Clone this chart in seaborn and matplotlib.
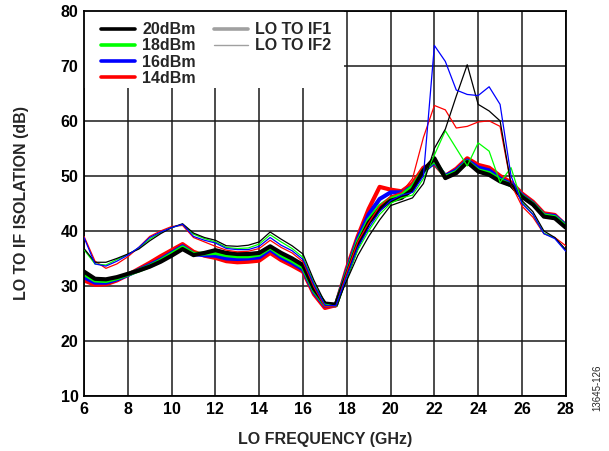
import numpy as np
import pandas as pd
import matplotlib
matplotlib.use("Agg")
import matplotlib.pyplot as plt
from matplotlib.lines import Line2D
from matplotlib.patches import Rectangle
import seaborn as sns

# LO frequency grid (GHz), shared by all curves
freq = np.arange(6.0, 28.01, 0.5)

# LO to IF1 isolation (dB), thick lines
if1_20 = [32.6, 31.3, 31.2, 31.6, 32.2, 32.8, 33.5, 34.4, 35.5, 36.7, 35.6, 36.0, 36.5, 36.0, 35.8,
          35.8, 36.0, 37.2, 36.0, 35.0, 33.8, 29.5, 26.8, 26.6, 32.0, 37.5, 41.5, 44.0, 45.5, 46.0,
          47.5, 51.0, 53.2, 49.6, 50.5, 52.5, 50.8, 50.2, 49.0, 48.3, 46.2, 44.8, 42.6, 42.3, 40.6]
if1_18 = [32.2, 31.0, 30.9, 31.4, 32.1, 32.8, 33.6, 34.6, 35.8, 37.0, 35.8, 35.9, 36.0, 35.6, 35.4,
          35.4, 35.7, 37.0, 35.6, 34.6, 33.4, 29.2, 26.6, 26.5, 32.3, 38.0, 42.0, 44.5, 45.9, 46.5,
          48.0, 51.0, 52.8, 49.8, 50.7, 52.6, 51.0, 50.5, 49.2, 48.3, 46.3, 44.9, 42.8, 42.5, 40.8]
if1_16 = [31.6, 30.6, 30.6, 31.2, 32.0, 32.9, 33.8, 34.8, 36.0, 37.2, 35.8, 35.6, 35.5, 35.0, 34.9,
          35.0, 35.2, 36.6, 35.2, 34.2, 33.0, 28.9, 26.4, 26.5, 32.7, 38.5, 43.0, 45.8, 47.0, 47.0,
          48.0, 50.8, 52.5, 50.0, 51.0, 52.8, 51.5, 51.0, 49.5, 48.5, 46.5, 45.0, 42.9, 42.7, 41.0]
if1_14 = [31.0, 30.2, 30.3, 31.0, 32.0, 33.1, 34.2, 35.4, 36.5, 37.6, 36.2, 35.5, 35.1, 34.5, 34.3,
          34.4, 34.6, 36.0, 34.7, 33.7, 32.6, 28.5, 26.0, 26.5, 33.2, 39.0, 44.0, 48.0, 47.5, 47.2,
          48.6, 51.5, 52.2, 50.0, 51.3, 53.2, 52.0, 51.5, 50.0, 48.8, 46.8, 45.3, 43.2, 42.9, 41.0]

# LO to IF2 isolation (dB), thin lines
if2_20 = [36.8, 34.3, 34.3, 35.0, 35.8, 36.7, 38.2, 39.5, 40.6, 41.3, 39.6, 38.8, 38.3, 37.3, 37.2,
          37.4, 38.0, 39.8, 38.5, 37.3, 35.8, 31.0, 27.0, 26.5, 31.0, 35.5, 39.0, 42.0, 44.6, 45.3,
          46.0, 48.6, 55.0, 58.5, 64.5, 70.2, 63.0, 61.8, 60.0, 48.5, 45.5, 43.5, 40.0, 38.8, 36.6]
if2_18 = [36.6, 34.0, 33.8, 34.8, 35.7, 36.9, 38.5, 39.7, 40.6, 41.2, 39.4, 38.6, 38.0, 37.0, 36.8,
          36.9, 37.6, 39.3, 38.0, 36.8, 35.2, 30.5, 26.7, 26.4, 31.5, 36.5, 40.0, 43.0, 45.0, 46.0,
          46.5, 49.5, 53.8, 58.2, 55.0, 51.8, 56.0, 54.5, 48.8, 51.5, 45.2, 43.0, 39.6, 38.7, 36.5]
if2_16 = [38.8, 34.0, 33.6, 34.5, 35.6, 37.0, 38.8, 39.8, 40.6, 41.2, 39.0, 38.3, 37.8, 36.8, 36.6,
          36.6, 37.2, 38.8, 37.4, 36.4, 34.8, 30.2, 26.5, 26.4, 31.8, 37.0, 40.5, 43.5, 45.5, 46.5,
          47.0, 50.0, 73.7, 70.8, 65.6, 64.8, 64.6, 66.2, 63.0, 50.0, 45.0, 43.0, 39.5, 38.6, 36.3]
if2_14 = [39.0, 34.5, 33.2, 34.0, 35.3, 37.0, 39.0, 40.0, 40.8, 41.0, 38.8, 38.0, 37.2, 36.5, 36.2,
          36.3, 36.8, 38.3, 37.0, 36.0, 34.4, 29.8, 26.2, 26.2, 32.5, 38.0, 41.5, 44.5, 46.3, 47.0,
          49.5, 57.0, 62.8, 62.0, 58.7, 59.0, 59.8, 60.0, 59.0, 48.5, 44.5, 42.5, 39.5, 38.8, 37.3]

powers = ["20dBm", "18dBm", "16dBm", "14dBm"]
colors = {"20dBm": "black", "18dBm": "#00ff00", "16dBm": "#0000ff", "14dBm": "#ff0000"}
if1 = {"20dBm": if1_20, "18dBm": if1_18, "16dBm": if1_16, "14dBm": if1_14}
if2 = {"20dBm": if2_20, "18dBm": if2_18, "16dBm": if2_16, "14dBm": if2_14}

sns.set_theme(style="white")
plt.rcParams["font.family"] = ["Liberation Sans", "DejaVu Sans"]
plt.rcParams["font.weight"] = "bold"

fig = plt.figure(figsize=(6.09, 4.51), dpi=100)
ax = fig.add_axes([0.138, 0.122, 0.791, 0.854])

# thick: LO to IF1, drawn red first so black ends up on top
for p in ["14dBm", "16dBm", "18dBm", "20dBm"]:
    sns.lineplot(x=freq, y=if1[p], color=colors[p], linewidth=3.0, ax=ax, zorder=2)
# thin: LO to IF2
for p in ["14dBm", "18dBm", "20dBm", "16dBm"]:
    sns.lineplot(x=freq, y=if2[p], color=colors[p], linewidth=0.9, ax=ax, zorder=3)

ax.set_xlim(6, 28)
ax.set_ylim(10, 80)
ax.set_xticks(np.arange(6, 29, 2))
ax.set_yticks(np.arange(10, 81, 10))
ax.set_axisbelow(True)
ax.grid(True, color="#1a1a1a", linewidth=1.1)
ax.tick_params(length=0, labelsize=11.5, pad=4, colors="black")
for lab in ax.get_xticklabels() + ax.get_yticklabels():
    lab.set_fontweight("bold")
for s in ax.spines.values():
    s.set_color("black")
    s.set_linewidth(1.3)

ax.set_xlabel("LO FREQUENCY (GHz)", fontsize=11.5, fontweight="bold", labelpad=11)
ax.set_ylabel("LO TO IF ISOLATION (dB)", fontsize=11.5, fontweight="bold", labelpad=23)

# white block behind the legend hides the grid
ax.add_patch(Rectangle((0, 0.8), 0.54, 0.2, transform=ax.transAxes,
                       facecolor="white", edgecolor="none", zorder=1.5))

handles = [Line2D([], [], color=colors[p], linewidth=2.6) for p in powers]
handles += [Line2D([], [], color="#a0a0a0", linewidth=2.6),
            Line2D([], [], color="#a0a0a0", linewidth=1.0),
            Line2D([], [], linestyle="none"), Line2D([], [], linestyle="none")]
labels = powers + ["LO TO IF1", "LO TO IF2", "", ""]
leg = ax.legend(handles, labels, ncol=2, loc="upper left", bbox_to_anchor=(0.036, 0.97),
                frameon=False, fontsize=11.5, handlelength=2.1, handletextpad=0.45,
                columnspacing=1.15, labelspacing=0.07, borderpad=0, borderaxespad=0)
for t in leg.get_texts():
    t.set_fontweight("bold")

fig.text(0.98, 0.14, "13645-126", rotation=90, fontsize=7, fontweight="normal",
         ha="center", va="center")

fig.savefig("out.png", dpi=100)
